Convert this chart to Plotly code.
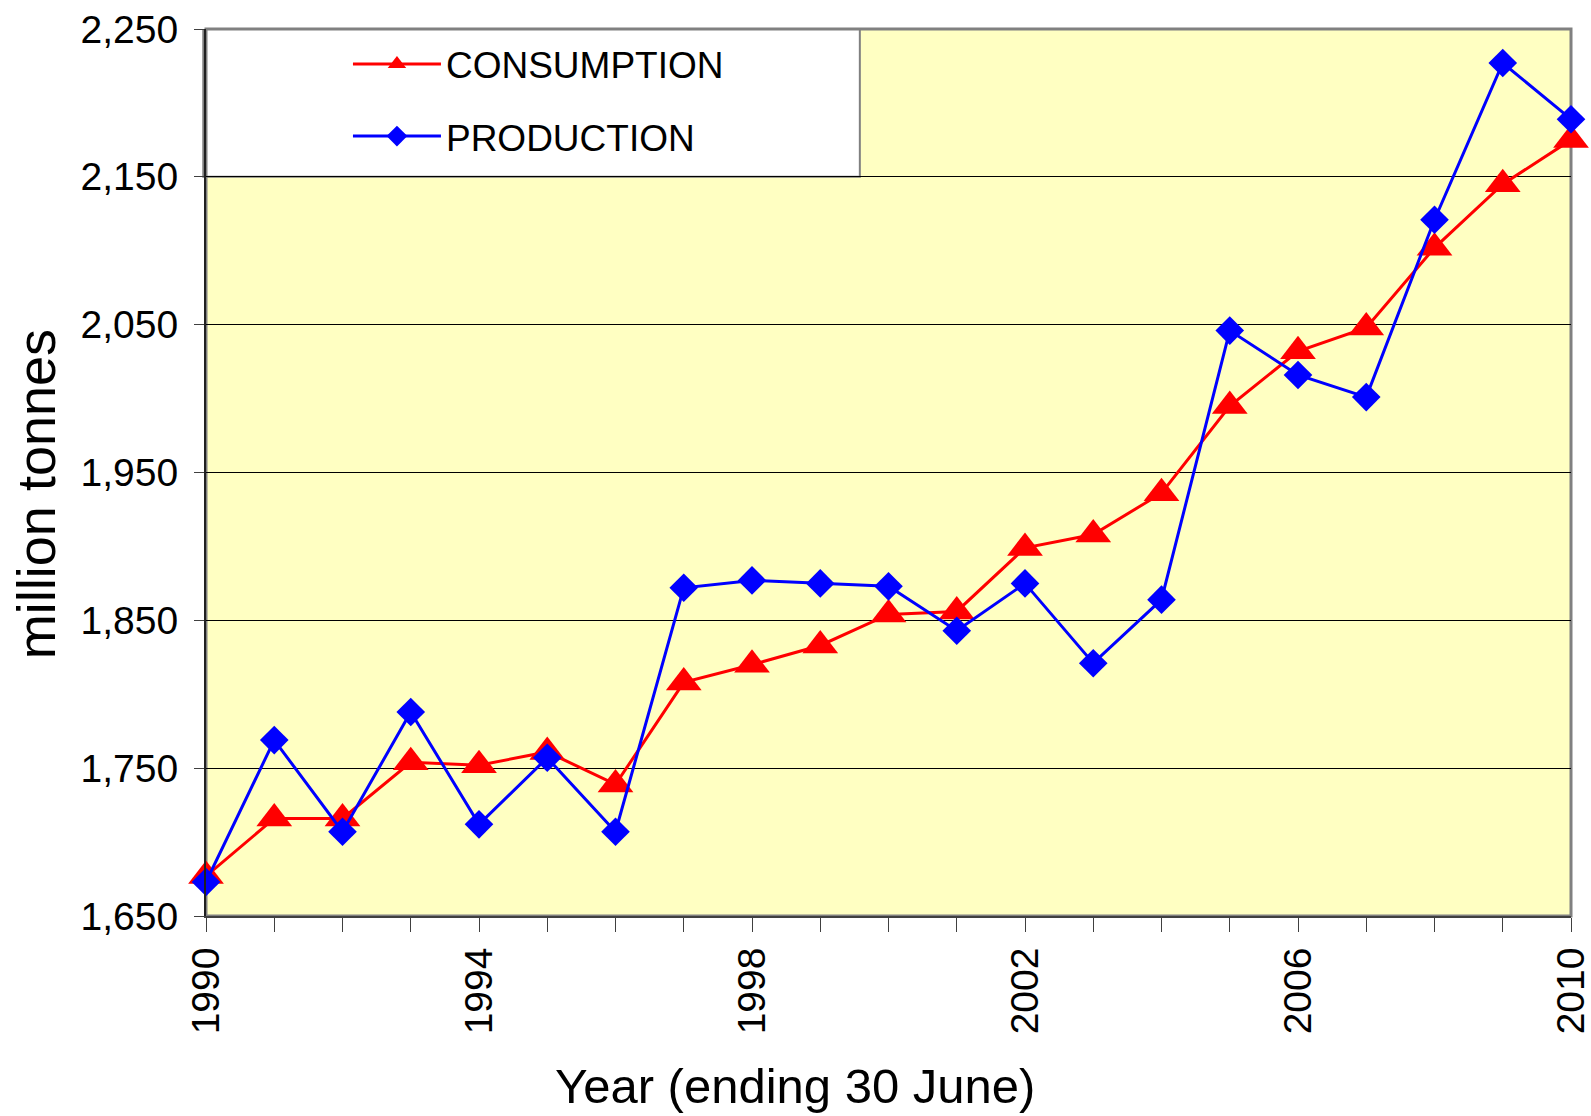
import plotly.graph_objects as go

years = list(range(1990, 2011))
consumption = [1677, 1716, 1716, 1754, 1752, 1761, 1739, 1808, 1820, 1833, 1854,
               1856, 1899, 1908, 1936, 1995, 2032, 2048, 2102, 2145, 2175]
production = [1673, 1769, 1707, 1788, 1712, 1757, 1707, 1872, 1877, 1875, 1873,
              1843, 1875, 1821, 1864, 2046, 2016, 2001, 2121, 2227, 2189]
x_tick_vals = [1990, 1994, 1998, 2002, 2006, 2010]
y_tick_vals = [1650, 1750, 1850, 1950, 2050, 2150, 2250]
y_tick_text = ["1,650", "1,750", "1,850", "1,950", "2,050", "2,150", "2,250"]

FONT = "Liberation Sans, Arial, sans-serif"

fig = go.Figure()
fig.add_trace(go.Scatter(
    x=years, y=consumption, name="CONSUMPTION", mode="lines+markers",
    line=dict(color="#FF0000", width=3),
    marker=dict(symbol="triangle-up", size=31, color="#FF0000"),
    cliponaxis=False, legendgroup="c"))
fig.add_trace(go.Scatter(
    x=years, y=production, name="PRODUCTION", mode="lines+markers",
    line=dict(color="#0000FF", width=3),
    marker=dict(symbol="diamond", size=22, color="#0000FF"),
    cliponaxis=False, legendgroup="p"))

# legend box
fig.add_shape(type="rect", xref="paper", yref="y", x0=-0.002, x1=0.479, y0=2150, y1=2250,
              fillcolor="white", line=dict(color="#808080", width=2), layer="below")
# plot border
fig.add_shape(type="rect", xref="paper", yref="paper", x0=0, x1=1, y0=0, y1=1,
              fillcolor="rgba(0,0,0,0)", line=dict(color="#808080", width=3), layer="below")

fig.update_layout(
    width=1591, height=1116,
    margin=dict(l=206, r=20, t=29, b=200, autoexpand=False),
    paper_bgcolor="white", plot_bgcolor="#FFFFC2",
    font=dict(family=FONT, color="black", size=38),
    showlegend=True,
    legend=dict(x=0.104, y=0.995, xanchor="left", yanchor="top",
                bgcolor="rgba(0,0,0,0)", font=dict(size=37, family=FONT),
                traceorder="grouped", tracegroupgap=21, itemwidth=88),
    xaxis=dict(range=[1990, 2010], tickvals=x_tick_vals, ticktext=[str(v) for v in x_tick_vals],
               tickangle=-90, ticks="outside", ticklen=14, tickcolor="#404040",
               showline=True, linecolor="#404040", linewidth=2, showgrid=False,
               zeroline=False, tickfont=dict(size=39, family=FONT),
               ticklabeloverflow="allow", automargin=False,
               minor=dict(dtick=1, tick0=1990, ticks="outside", ticklen=14, tickcolor="#404040",
                          showgrid=False)),
    yaxis=dict(range=[1650, 2250], tickvals=y_tick_vals, ticktext=y_tick_text,
               ticks="outside", ticklen=10, tickcolor="#404040",
               showline=True, linecolor="#202020", linewidth=2,
               showgrid=True, gridcolor="#000000", gridwidth=1, zeroline=False,
               tickfont=dict(size=39, family=FONT), ticklabelstandoff=8,
               ticklabeloverflow="allow", automargin=False),
    annotations=[
        dict(text="Year (ending 30 June)", xref="paper", yref="paper",
             x=0.4315, y=-0.192, xanchor="center", yanchor="middle", showarrow=False,
             font=dict(size=49, family=FONT)),
        dict(text="million tonnes", xref="paper", yref="paper",
             x=-0.125, y=0.476, xanchor="center", yanchor="middle", showarrow=False,
             textangle=-90, font=dict(size=54, family=FONT)),
    ],
)

fig.write_html("out.html", config={"displayModeBar": False},
               post_script="document.body.style.margin='0';")
